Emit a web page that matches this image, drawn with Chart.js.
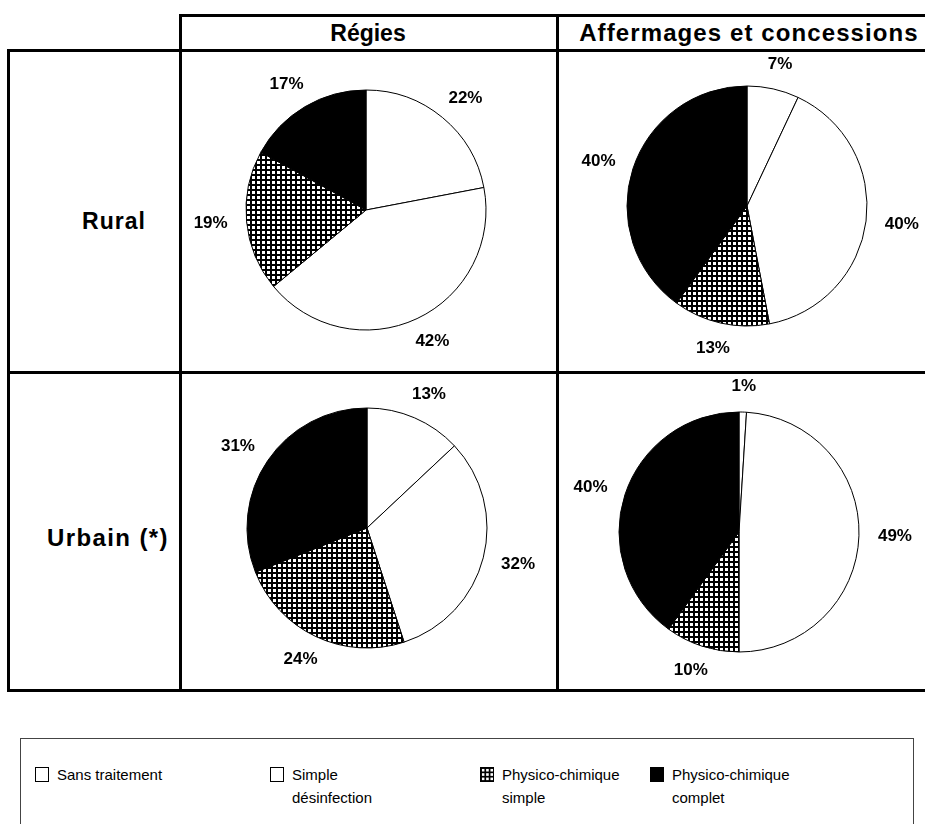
<!DOCTYPE html>
<html><head><meta charset="utf-8">
<script src="https://cdn.jsdelivr.net/npm/chart.js@4"></script>
<style>
body{margin:0;background:#fff;width:925px;height:824px;overflow:hidden;position:relative;font-family:"Liberation Sans",Arial,Helvetica,sans-serif;color:#000;}
.line{position:absolute;background:#000;}
.txt{position:absolute;font-weight:bold;transform:translate(-50%,-50%);white-space:nowrap;}
.cv{position:absolute;}
#legend{position:absolute;left:20px;top:738px;width:892px;height:120px;border:1px solid #444;}
.li{position:absolute;top:24px;font-size:15px;line-height:23px;}
.ico{position:absolute;top:28px;width:14px;height:15px;box-sizing:border-box;border:1px solid #000;}
</style></head><body>
<div id="grid"></div>
<div id="legend"></div>
<script>
// ---- data ----
const categories = ["Sans traitement", "Simple désinfection", "Physico-chimique simple", "Physico-chimique complet"];
const legendLines = [["Sans traitement"], ["Simple", "désinfection"], ["Physico-chimique", "simple"], ["Physico-chimique", "complet"]];
const columns = ["Régies", "Affermages et concessions"];
const rows = ["Rural", "Urbain (*)"];
const ruralRegies = [22, 42, 19, 17];
const ruralAffermages = [7, 40, 13, 40];
const urbainRegies = [13, 32, 24, 31];
const urbainAffermages = [1, 49, 10, 40];

// ---- pattern ----
function makePattern(){
  const c = document.createElement('canvas'); c.width = 5; c.height = 5;
  const g = c.getContext('2d');
  g.fillStyle = '#000'; g.fillRect(0,0,5,5);
  g.fillStyle = '#fff'; g.fillRect(1,1,3,3);
  return c;
}
const patCanvas = makePattern();
function fills(ctx){
  return ['#ffffff', '#ffffff', ctx.createPattern(patCanvas, 'repeat'), '#000000'];
}

// ---- grid lines ----
const grid = document.getElementById('grid');
function line(x,y,w,h){ const d=document.createElement('div'); d.className='line'; Object.assign(d.style,{left:x+'px',top:y+'px',width:w+'px',height:h+'px'}); grid.appendChild(d); }
line(179,14,746,3);
line(179,14,3,678);
line(556,14,3,678);
line(7,49,918,3);
line(7,371,918,3);
line(7,689,918,3);
line(7,49,3,643);

function text(str,x,y,size,ls){ const d=document.createElement('div'); d.className='txt'; d.textContent=str; Object.assign(d.style,{left:x+'px',top:y+'px',fontSize:size+'px',letterSpacing:(ls||0)+'px'}); document.body.appendChild(d); }
text(columns[0],368,33,23,0);
text(columns[1],749,33,24,1.1);
text(rows[0],114,221,23,1);
text(rows[1],108,538,24,1.4);

// ---- label plugin: text box placed just outside the slice mid-point ----
const pctLabels = {
  id:'pctLabels',
  afterDatasetsDraw(chart){
    const ctx = chart.ctx;
    const meta = chart.getDatasetMeta(0);
    const data = chart.data.datasets[0].data;
    ctx.save();
    ctx.font = 'bold 17px "Liberation Sans", Arial, sans-serif';
    ctx.fillStyle = '#000';
    ctx.textAlign = 'center';
    ctx.textBaseline = 'middle';
    meta.data.forEach((arc,i)=>{
      const p = arc.getProps(['x','y','startAngle','endAngle','outerRadius'], true);
      const mid = (p.startAngle + p.endAngle)/2;
      const s = data[i] + '%';
      const w = ctx.measureText(s).width, h = 13;
      const dx = Math.cos(mid), dy = Math.sin(mid);
      const r = p.outerRadius + 19;
      ctx.fillText(s, p.x + dx*r + dx*w/2, p.y + dy*r + dy*h/2);
    });
    ctx.restore();
  }
};

function pie(values, cx, cy){
  const w = 360, h = 320;
  const cv = document.createElement('canvas');
  cv.className='cv'; cv.width=w; cv.height=h;
  Object.assign(cv.style,{left:(cx-w/2)+'px',top:(cy-h/2)+'px',width:w+'px',height:h+'px'});
  document.body.appendChild(cv);
  const ctx = cv.getContext('2d');
  new Chart(ctx,{
    type:'pie',
    data:{labels:categories,datasets:[{data:values,backgroundColor:fills(ctx),borderColor:'#000',borderWidth:1}]},
    options:{responsive:false,animation:false,radius:120,layout:{padding:0},
      plugins:{legend:{display:false},tooltip:{enabled:false}}},
    plugins:[pctLabels]
  });
}
pie(ruralRegies,366,210);
pie(ruralAffermages,747,206);
pie(urbainRegies,367,528);
pie(urbainAffermages,739,532);

// ---- legend ----
const legend = document.getElementById('legend');
const legX = [14, 249, 459, 629];
categories.forEach((c,i)=>{
  const ico = document.createElement('canvas');
  ico.className='ico'; ico.width=14; ico.height=15;
  ico.style.left = legX[i]+'px';
  legend.appendChild(ico);
  const g = ico.getContext('2d');
  const f = fills(g)[i];
  g.fillStyle = f; g.fillRect(0,0,14,15);
  const t = document.createElement('div');
  t.className='li'; t.style.left=(legX[i]+22)+'px';
  t.innerHTML = legendLines[i].join('<br>');
  legend.appendChild(t);
});
</script>
</body></html>
